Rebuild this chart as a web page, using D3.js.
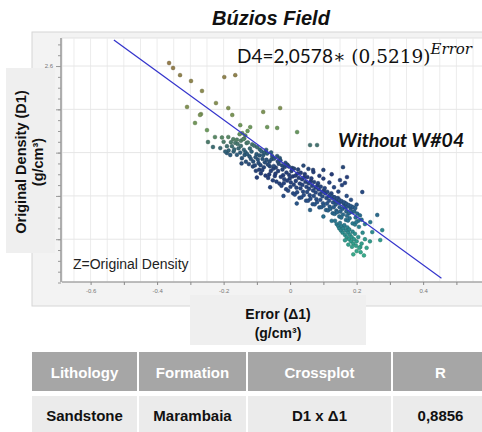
<!DOCTYPE html>
<html><head><meta charset="utf-8">
<script src="https://cdn.jsdelivr.net/npm/d3@7"></script>
<style>body{margin:0;background:#fff}svg{display:block}</style>
</head><body><div id="chart"></div>
<script>
const chartTitle = "Búzios Field";
const xLabelTicks = [-0.6, -0.4, -0.2, 0, 0.2, 0.4];
const xMinorTicks = [-0.6, -0.5, -0.4, -0.3, -0.2, -0.1, 0, 0.1, 0.2, 0.3, 0.4, 0.5];
const yLabelTicks = [2.6, 2.4, 2.2, 2.0, 1.8];
const fitLineError = [-0.53, 0.455];
const fitLineDensity = [2.72, 1.62];

const outlierPoints = [[-0.364,2.614],[-0.352,2.591],[-0.331,2.558],[-0.298,2.531],[-0.265,2.485],[-0.198,2.549],[-0.165,2.558],[-0.31,2.411],[-0.223,2.429],[-0.186,2.406],[-0.174,2.374],[-0.081,2.388],[-0.03,2.406],[-0.268,2.378],[-0.286,2.337],[-0.271,2.374],[-0.039,2.314],[-0.069,2.318],[0.021,2.295],[0.06,2.235],[0.081,2.235],[0.159,2.133],[0.171,2.087],[0.15,2.073],[0.156,2.05],[0.217,2.018],[0.262,1.912],[0.241,1.879],[0.277,1.842],[0.247,1.833],[0.271,1.796],[0.211,1.764],[0.165,2.06],[0.125,2.1],[0.1,2.12],[0.069,2.12]];

const tailPoints = [[-0.25,2.304],[-0.226,2.272],[-0.247,2.249],[-0.232,2.226],[-0.21,2.221],[-0.19,2.198],[-0.18,2.189],[-0.171,2.262],[-0.144,2.29],[-0.186,2.272],[-0.15,2.327],[-0.12,2.318],[-0.2,2.25],[-0.175,2.23],[-0.165,2.245],[-0.16,2.26],[-0.155,2.22],[-0.152,2.285],[-0.185,2.21],[-0.17,2.205],[-0.16,2.19],[-0.15,2.2],[-0.195,2.205],[-0.205,2.27],[-0.135,2.28],[-0.128,2.3],[-0.158,2.24],[-0.148,2.255],[-0.168,2.215],[-0.178,2.248],[-0.19,2.23],[-0.138,2.265]];

const bandPoints = [
[-0.148,2.231],[-0.133,2.158],[-0.141,2.262],[-0.137,2.189],[-0.145,2.174],[-0.131,2.244],[-0.139,2.213],[-0.146,2.15],[-0.134,2.202],
[-0.127,2.247],[-0.112,2.136],[-0.121,2.219],[-0.118,2.171],[-0.129,2.193],[-0.114,2.238],[-0.124,2.147],[-0.116,2.205],[-0.122,2.182],[-0.111,2.159],
[-0.108,2.232],[-0.093,2.121],[-0.101,2.193],[-0.097,2.168],[-0.106,2.141],[-0.091,2.214],[-0.103,2.116],[-0.099,2.225],[-0.095,2.152],[-0.104,2.179],[-0.092,2.187],
[-0.088,2.104],[-0.072,2.213],[-0.083,2.171],[-0.079,2.132],[-0.086,2.206],[-0.074,2.094],[-0.081,2.188],[-0.076,2.155],[-0.089,2.142],[-0.071,2.167],[-0.084,2.119],[-0.077,2.2],
[-0.069,2.196],[-0.052,2.072],[-0.062,2.158],[-0.058,2.115],[-0.066,2.083],[-0.054,2.184],[-0.061,2.137],[-0.057,2.201],[-0.067,2.145],[-0.051,2.126],[-0.063,2.099],[-0.056,2.169],
[-0.048,2.172],[-0.032,2.057],[-0.043,2.131],[-0.039,2.184],[-0.046,2.092],[-0.034,2.148],[-0.041,2.066],[-0.036,2.115],[-0.049,2.138],[-0.031,2.175],[-0.044,2.103],[-0.037,2.159],
[-0.029,2.164],[-0.012,2.031],[-0.023,2.122],[-0.018,2.078],[-0.026,2.047],[-0.014,2.153],[-0.021,2.096],[-0.016,2.134],[-0.028,2.088],[-0.011,2.108],[-0.024,2.141],[-0.019,2.059],
[-0.008,2.144],[0.009,2.012],[-0.003,2.097],[0.002,2.063],[-0.006,2.024],[0.006,2.129],[-0.001,2.081],[0.004,2.115],[-0.009,2.071],[0.008,2.09],[-0.004,2.136],[0.001,2.042],
[0.012,2.126],[0.028,1.991],[0.017,2.069],[0.022,2.103],[0.014,2.006],[0.026,2.083],[0.019,2.038],[0.024,2.122],[0.011,2.052],[0.029,2.057],[0.016,2.094],[0.021,2.017],
[0.032,2.107],[0.048,1.978],[0.037,2.051],[0.042,2.086],[0.034,1.993],[0.046,2.065],[0.039,2.02],[0.044,2.101],[0.031,2.035],[0.049,2.042],[0.036,2.077],[0.041,2.004],
[0.052,2.087],[0.068,1.962],[0.057,2.033],[0.062,2.068],[0.054,1.978],[0.066,2.047],[0.059,2.003],[0.064,2.081],[0.051,2.018],[0.069,2.025],[0.056,2.058],[0.061,1.987],
[0.072,2.064],[0.088,1.947],[0.077,2.016],[0.082,2.048],[0.074,1.961],[0.086,2.03],[0.079,1.985],[0.084,2.059],[0.071,2.0],[0.089,2.008],[0.076,2.038],[0.081,1.971],
[0.092,2.043],[0.108,1.935],[0.097,1.998],[0.102,2.027],[0.094,1.948],[0.106,2.012],[0.099,1.966],[0.104,2.036],[0.091,1.982],[0.109,1.99],[0.096,2.019],[0.101,1.955],
[0.112,2.019],[0.128,1.92],[0.117,1.978],[0.122,2.004],[0.114,1.933],[0.126,1.991],[0.119,1.95],[0.124,2.012],[0.111,1.965],[0.129,1.97],[0.116,1.998],[0.121,1.94],
[0.132,1.994],[0.148,1.905],[0.137,1.96],[0.142,1.983],[0.134,1.917],[0.146,1.968],[0.139,1.932],[0.144,1.99],[0.131,1.948],[0.149,1.948],[0.136,1.976],[0.141,1.924],
[0.152,1.973],[0.168,1.889],[0.157,1.94],[0.162,1.962],[0.154,1.9],[0.166,1.946],[0.159,1.914],[0.164,1.968],[0.151,1.928],[0.169,1.928],
[0.172,1.951],[0.188,1.873],[0.177,1.92],[0.182,1.94],[0.174,1.886],[0.186,1.925],[0.179,1.897],[0.184,1.948],[0.171,1.908],
[0.193,1.928],[0.207,1.857],[0.197,1.9],[0.202,1.918],[0.195,1.868],[0.205,1.885],[0.199,1.879]];

const edgePoints = [[0.04,2.14],[0.07,2.11],[0.1,2.08],[0.118,2.062],[0.132,2.04],[0.145,2.02],[0.17,2.0],[0.183,1.982],[0.2,1.96],[0.055,2.125],[0.088,2.093],[-0.06,2.04],[-0.02,2.0],[0.02,1.965],[0.06,1.935],[0.1,1.905],[0.125,1.885],[-0.1,2.085],[0.215,1.89],[0.225,1.87],[0.21,1.91]];

const streakPoints = [[0.12,2.004],[0.127,1.998],[0.134,1.993],[0.141,1.988],[0.148,1.982],[0.155,1.976],[0.162,1.97],[0.169,1.964],[0.176,1.958],[0.183,1.953],[0.19,1.948],[0.196,1.944]];

const tealPoints = [[0.135,1.885],[0.14,1.87],[0.145,1.86],[0.15,1.875],[0.148,1.85],[0.155,1.86],[0.153,1.84],[0.16,1.85],[0.158,1.83],[0.163,1.865],[0.165,1.82],[0.168,1.84],[0.17,1.81],[0.172,1.855],[0.175,1.83],[0.177,1.8],[0.18,1.82],[0.178,1.845],[0.183,1.79],[0.185,1.81],[0.188,1.835],[0.19,1.78],[0.186,1.765],[0.192,1.8],[0.195,1.825],[0.198,1.77],[0.2,1.79],[0.205,1.81],[0.208,1.76],[0.175,1.775],[0.165,1.795],[0.212,1.74],[0.215,1.78],[0.2,1.745],[0.19,1.73],[0.222,1.725],[0.23,1.76],[0.225,1.8],[0.218,1.83],[0.24,1.79]];

const colorStops = [1.72, 1.8, 1.88, 1.98, 2.1, 2.2, 2.3, 2.45, 2.62];
const colorValues = ["#3aad8c","#2f9a8c","#2a7890","#2a5088","#253c78","#2f5f7c","#6a9a5c","#8a9050","#957c4c"];
const tableHeaders = ["Lithology", "Formation", "Crossplot", "R"];
const tableRow = ["Sandstone", "Marambaia", "D1 x Δ1", "0,8856"];

const W = 482, H = 432;
const svg = d3.select("#chart").append("svg").attr("width", W).attr("height", H);
const sans = "'Liberation Sans', Arial, sans-serif";

const x = d3.scaleLinear().domain([-0.686, 0.577]).range([62, 482]);
const y = d3.scaleLinear().domain([1.6, 2.73]).range([282.5, 37.9]);
const color = d3.scaleLinear().domain(colorStops).range(colorValues);

svg.append("text").attr("x", 271).attr("y", 25).attr("text-anchor", "middle")
  .attr("font-family", sans).attr("font-weight", "bold").attr("font-style", "italic")
  .attr("font-size", 20).attr("fill", "#111").text(chartTitle);

svg.append("rect").attr("x", 32).attr("y", 32).attr("width", 460).attr("height", 274)
  .attr("fill", "#f3f3f3").attr("stroke", "#d6d6d6");
svg.append("rect").attr("x", 62).attr("y", 38).attr("width", 430).attr("height", 244)
  .attr("fill", "#fff").attr("stroke", "#e2e2e2");

const grid = svg.append("g");
grid.selectAll("line.v").data(d3.range(-13, 12).map(i => i * 0.05)).join("line")
  .attr("x1", d => x(d)).attr("x2", d => x(d)).attr("y1", 38).attr("y2", 282)
  .attr("stroke", "#ececec").attr("stroke-width", 1);
grid.selectAll("line.h").data(yLabelTicks).join("line")
  .attr("x1", 62).attr("x2", 482).attr("y1", d => y(d)).attr("y2", d => y(d))
  .attr("stroke", "#e6e6e6").attr("stroke-width", 1);

const xAxis = svg.append("g").attr("transform", "translate(0,282)")
  .call(d3.axisBottom(x).tickValues(xMinorTicks).tickSize(3)
    .tickFormat(d => xLabelTicks.some(v => Math.abs(v - d) < 1e-9) ? (Math.abs(d) < 1e-9 ? "0" : d.toFixed(1)) : ""));
xAxis.select(".domain").attr("stroke", "#888").attr("d", "M62,0H482");
xAxis.selectAll(".tick line").attr("stroke", "#888");
xAxis.selectAll(".tick text").attr("font-family", sans).attr("font-size", 6).attr("fill", "#777").attr("dy", "0.9em");

const yMinor = d3.range(0, 23).map(i => 1.6 + i * 0.05);
const yAxis = svg.append("g").attr("transform", "translate(61,0)")
  .call(d3.axisLeft(y).tickValues(yMinor).tickSize(3).tickFormat(""));
yAxis.select(".domain").attr("stroke", "#999").attr("stroke-width", 1.5).attr("d", "M0,38V282");
yAxis.selectAll(".tick line").attr("stroke", "#999");
const yLab = svg.append("g").attr("transform", "translate(61,0)")
  .call(d3.axisLeft(y).tickValues(yLabelTicks).tickSize(5).tickFormat(d => d === 2 ? "2" : d.toFixed(1)));
yLab.select(".domain").remove();
yLab.selectAll(".tick line").attr("stroke", "#999");
yLab.selectAll(".tick text").attr("font-family", sans).attr("font-size", 6).attr("fill", "#777");

svg.append("clipPath").attr("id", "plotclip").append("rect")
  .attr("x", 62).attr("y", 38).attr("width", 420).attr("height", 244);
const pts = svg.append("g").attr("clip-path", "url(#plotclip)");
const allPoints = [].concat(outlierPoints, tailPoints, bandPoints, edgePoints, streakPoints, tealPoints);
pts.selectAll("circle").data(allPoints).join("circle")
  .attr("cx", d => x(d[0])).attr("cy", d => y(d[1])).attr("r", 1.9)
  .attr("fill", d => color(d[1]))
  .attr("stroke", d => d3.color(color(d[1])).darker(0.8)).attr("stroke-width", 0.5);

const fitData = fitLineError.map((e, i) => [e, fitLineDensity[i]]);
pts.append("path").datum(fitData)
  .attr("d", d3.line().x(d => x(d[0])).y(d => y(d[1])))
  .attr("stroke", "#3434cc").attr("stroke-width", 1.2).attr("fill", "none");

const eq = svg.append("text").attr("x", 237).attr("y", 63).attr("fill", "#111");
eq.append("tspan").attr("font-family", "Lato, 'Open Sans', sans-serif").attr("font-size", 19).text("D4=2,0578");
eq.append("tspan").attr("font-family", "'DejaVu Serif', serif").attr("font-size", 18.5).text("∗ (0,5219)");
eq.append("tspan").attr("font-family", "'DejaVu Serif', serif").attr("font-style", "italic")
  .attr("font-size", 15).attr("dy", -9).text("Error");

svg.append("text").attr("x", 338).attr("y", 147)
  .attr("font-family", "Lato, sans-serif").attr("font-weight", "bold").attr("font-style", "italic")
  .attr("font-size", 19.5).attr("fill", "#111").text("Without W#04");

svg.append("text").attr("x", 73).attr("y", 269).attr("font-family", sans)
  .attr("font-size", 14).attr("fill", "#222").text("Z=Original Density");

svg.append("rect").attr("x", 6).attr("y", 68).attr("width", 49).attr("height", 185).attr("fill", "#efefef");
const yt = svg.append("g").attr("font-family", sans).attr("font-weight", "bold").attr("font-size", 14.5).attr("fill", "#111").attr("text-anchor", "middle");
yt.append("text").attr("transform", "translate(26,162) rotate(-90)").text("Original Density (D1)");
yt.append("text").attr("transform", "translate(43,162) rotate(-90)").text("(g/cm³)");

svg.append("rect").attr("x", 190).attr("y", 295).attr("width", 176).attr("height", 50).attr("fill", "#efefef");
const xt = svg.append("g").attr("font-family", sans).attr("font-weight", "bold").attr("font-size", 14).attr("fill", "#111").attr("text-anchor", "middle");
xt.append("text").attr("x", 278).attr("y", 319).text("Error (Δ1)");
xt.append("text").attr("x", 278).attr("y", 338).text("(g/cm³)");

const cols = [[32, 137], [139, 246], [248, 391], [393, 490]];
const tbl = svg.append("g").attr("font-family", sans).attr("font-weight", "bold").attr("font-size", 15).attr("text-anchor", "middle");
tableHeaders.forEach((h, i) => {
  tbl.append("rect").attr("x", cols[i][0]).attr("y", 352).attr("width", cols[i][1] - cols[i][0]).attr("height", 39).attr("fill", "#a6a6a6");
  tbl.append("text").attr("x", (cols[i][0] + cols[i][1]) / 2 - (i === 3 ? 1 : 0)).attr("y", 378).attr("fill", "#fff").text(h);
});
tableRow.forEach((t, i) => {
  tbl.append("rect").attr("x", cols[i][0]).attr("y", 396).attr("width", cols[i][1] - cols[i][0]).attr("height", 36).attr("fill", "#ebebeb");
  tbl.append("text").attr("x", (cols[i][0] + cols[i][1]) / 2 - (i === 3 ? 1 : 0)).attr("y", 421).attr("fill", "#111").text(t);
});
</script></body></html>
